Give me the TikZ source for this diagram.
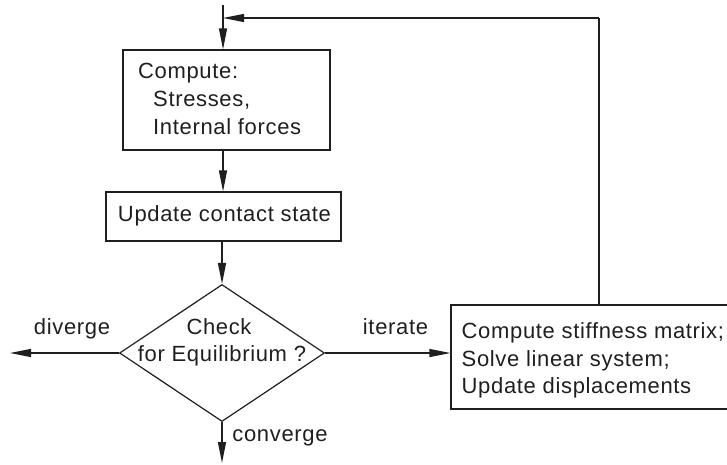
\documentclass[tikz,border=0pt]{standalone}
\usepackage{fontspec}
\setmainfont{Liberation Sans}[LetterSpace=3]
\usetikzlibrary{arrows.meta,shapes.geometric}
\begin{document}
\begin{tikzpicture}[x=1pt,y=-1pt,
  every node/.style={font=\fontsize{22}{28}\selectfont, text=black!88},
  flow/.style={line width=1.2pt, draw=black!88},
  arr/.style={flow, -{Triangle[length=21pt,width=8pt]}},
  procbox/.style={draw=black!88, line width=1.2pt, rectangle, inner sep=0pt},
  decision/.style={draw=black!88, line width=1.2pt, diamond, inner sep=0pt},
  lbl/.style={inner sep=0pt}]
\useasboundingbox (0,0) rectangle (727,464);
\clip (0,0) rectangle (727,464);

% process boxes and the decision
\node[procbox, minimum width=207pt, minimum height=100pt] (compute) at (226.5,100) {};
\node[procbox, minimum width=235pt, minimum height=49pt] (update) at (223.5,216.5) {};
\node[decision, minimum width=205pt, minimum height=137pt] (check) at (222,353) {};
\node[procbox, minimum width=292pt, minimum height=104pt] (solve) at (597,357) {};

% box texts
\node[lbl, anchor=base west] at (138,78.3) {Compute:};
\node[lbl, anchor=base west] at (153,106.7) {Stresses,};
\node[lbl, anchor=base west] at (153,134) {Internal forces};
\node[lbl, anchor=base] at (224.5,221.7) {Update contact state};
\node[lbl, anchor=base] at (219,334.3) {Check};
\node[lbl, anchor=base] at (222,361.7) {for Equilibrium ?};
\node[lbl, anchor=base west] at (461.5,338.3) {Compute stiffness matrix;};
\node[lbl, anchor=base west] at (461.5,366.3) {Solve linear system;};
\node[lbl, anchor=base west] at (461.5,393.5) {Update displacements};

% connector ends
\coordinate (start) at (223,5);
\coordinate (loop) at (599,18);
\coordinate (divend) at (10,353);
\coordinate (convend) at (222,463);

% connectors
\draw[arr] (start) -- (start |- compute.north);
\draw[flow] (solve.north -| loop) -- (loop);
\draw[arr] (loop) -- (loop -| start);
\draw[arr] (compute.south -| start) -- (update.north -| start);
\draw[arr] (update.south -| check.north) -- (check.north);
\draw[arr] (check.east) -- (solve.west |- check.east);
\draw[arr] (check.west) -- (divend);
\draw[arr] (check.south) -- (convend);

% branch labels
\node[lbl, anchor=base] at (72,334) {diverge};
\node[lbl, anchor=base] at (395.5,334) {iterate};
\node[lbl, anchor=base] at (280,441.7) {converge};
\end{tikzpicture}
\end{document}
